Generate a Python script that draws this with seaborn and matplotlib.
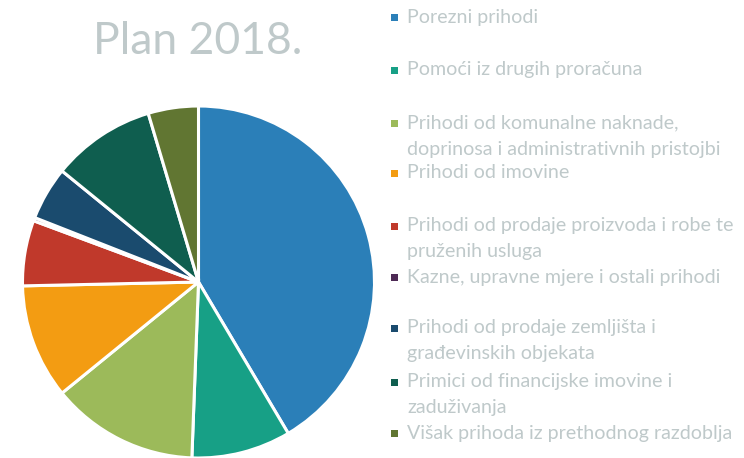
import matplotlib
matplotlib.use("Agg")
import matplotlib.pyplot as plt
import matplotlib.patches as mpatches
import seaborn as sns

# Data (share of plan, %)
categories = [
    "Porezni prihodi",
    "Pomoći iz drugih proračuna",
    "Prihodi od komunalne naknade,\ndoprinosa i administrativnih pristojbi",
    "Prihodi od imovine",
    "Prihodi od prodaje proizvoda i robe te\npruženih usluga",
    "Kazne, upravne mjere i ostali prihodi",
    "Prihodi od prodaje zemljišta i\ngrađevinskih objekata",
    "Primici od financijske imovine i\nzaduživanja",
    "Višak prihoda iz prethodnog razdoblja",
]
values = [41.4, 9.1, 13.5, 10.5, 6.0, 0.3, 4.9, 9.5, 4.6]
colors = ["#2B7FB8", "#17A086", "#9CBA5A", "#F39C12", "#C0392B",
          "#4E2A55", "#1A4B6E", "#0F5E4F", "#617632"]

sns.set_theme(style="white")
plt.rcParams["font.family"] = ["Lato", "DejaVu Sans"]
palette = sns.color_palette(colors)
text_col = "#BFC9CA"

W, H = 744, 458
fig = plt.figure(figsize=(W / 100, H / 100), dpi=100)

# pie axes: centre (198.5, 282) px from top, radius 176 px
r = 176
cx, cy = 198.5, H - 282
ax = fig.add_axes([(cx - r) / W, (cy - r) / H, 2 * r / W, 2 * r / H])
ax.pie(values, colors=palette, startangle=90, counterclock=False, radius=1,
       wedgeprops=dict(edgecolor="white", linewidth=2.2))
ax.set_xlim(-1, 1)
ax.set_ylim(-1, 1)
ax.axis("off")

fig.text(198 / W, 1 - 42 / H, "Plan 2018.", ha="center", va="center",
         fontsize=32, color=text_col)

# legend, drawn by hand to keep the spacing of the original
entry_y = [17, 70, 123, 173, 226, 277, 328, 382, 433]
line_h = 26
for lab, col, y in zip(categories, palette, entry_y):
    sq = 7
    fig.patches.append(mpatches.Rectangle(((394 - sq / 2) / W, 1 - (y + sq / 2) / H),
                                          sq / W, sq / H, transform=fig.transFigure,
                                          facecolor=col, edgecolor="none"))
    for i, part in enumerate(lab.split("\n")):
        fig.text(407 / W, 1 - (y + i * line_h) / H, part, ha="left", va="center",
                 fontsize=14.1, color=text_col)

fig.savefig("out.png", dpi=100, facecolor="white")
